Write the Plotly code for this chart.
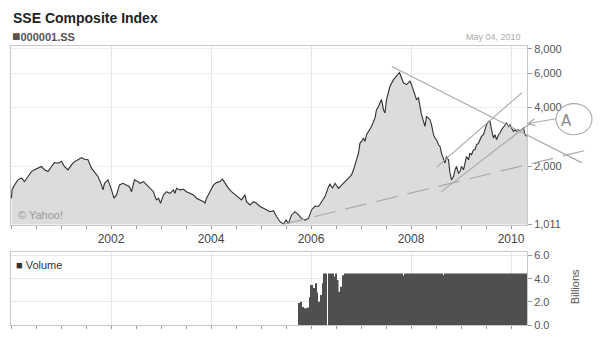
import math
import plotly.graph_objects as go

# ---- SSE Composite close (decimal year, index level) ----
years = [
    2000.01, 2000.02, 2000.07, 2000.14, 2000.21, 2000.27, 2000.34, 2000.41, 2000.47, 2000.54,
    2000.61, 2000.67, 2000.74, 2000.81, 2000.87, 2000.94, 2001.01, 2001.07, 2001.14, 2001.21,
    2001.27, 2001.34, 2001.41, 2001.47, 2001.54, 2001.61, 2001.67, 2001.74, 2001.81, 2001.84,
    2001.87, 2001.94, 2002.01, 2002.06, 2002.11, 2002.17, 2002.24, 2002.31, 2002.37, 2002.41,
    2002.47, 2002.54, 2002.58, 2002.65, 2002.71, 2002.78, 2002.85, 2002.88, 2002.91, 2002.95,
    2002.99, 2003.05, 2003.11, 2003.18, 2003.25, 2003.28, 2003.31, 2003.38, 2003.45, 2003.51,
    2003.58, 2003.65, 2003.71, 2003.78, 2003.85, 2003.88, 2003.91, 2003.98, 2004.05, 2004.11,
    2004.18, 2004.23, 2004.28, 2004.35, 2004.41, 2004.48, 2004.55, 2004.61, 2004.68, 2004.71,
    2004.78, 2004.85, 2004.91, 2004.98, 2005.05, 2005.11, 2005.18, 2005.25, 2005.31, 2005.38,
    2005.45, 2005.50, 2005.55, 2005.61, 2005.68, 2005.75, 2005.81, 2005.88, 2005.95, 2006.01,
    2006.08, 2006.15, 2006.21, 2006.28, 2006.35, 2006.38, 2006.43, 2006.48, 2006.55, 2006.61,
    2006.68, 2006.75, 2006.81, 2006.85, 2006.88, 2006.91, 2006.95, 2006.98, 2007.01, 2007.05,
    2007.08, 2007.11, 2007.15, 2007.21, 2007.28, 2007.31, 2007.35, 2007.38, 2007.41, 2007.45,
    2007.48, 2007.51, 2007.55, 2007.58, 2007.65, 2007.71, 2007.77, 2007.81, 2007.85, 2007.91,
    2007.98, 2008.01, 2008.05, 2008.08, 2008.11, 2008.15, 2008.18, 2008.21, 2008.25, 2008.28,
    2008.31, 2008.35, 2008.38, 2008.41, 2008.45, 2008.48, 2008.51, 2008.55, 2008.58, 2008.61,
    2008.65, 2008.68, 2008.71, 2008.75, 2008.78, 2008.81, 2008.85, 2008.88, 2008.91, 2008.95,
    2008.98, 2009.01, 2009.05, 2009.08, 2009.11, 2009.15, 2009.18, 2009.21, 2009.25, 2009.28,
    2009.31, 2009.35, 2009.38, 2009.41, 2009.45, 2009.48, 2009.51, 2009.55, 2009.58, 2009.61,
    2009.65, 2009.68, 2009.71, 2009.75, 2009.78, 2009.81, 2009.85, 2009.88, 2009.91, 2009.95,
    2009.98, 2010.01, 2010.05, 2010.08, 2010.11, 2010.15, 2010.18, 2010.21, 2010.25, 2010.28,
    2010.32,
]
close = [
    1378, 1519, 1611, 1709, 1750, 1675, 1778, 1885, 1924, 1963,
    2000, 1924, 1885, 2000, 2095, 2080, 2120, 2000, 1924, 2040,
    2120, 2164, 2223, 2180, 2164, 1963, 1885, 1778, 1611, 1519,
    1642, 1709, 1519, 1378, 1432, 1611, 1642, 1611, 1577, 1487,
    1709, 1675, 1642, 1675, 1611, 1548, 1487, 1404, 1350, 1378,
    1298, 1432, 1487, 1458, 1519, 1458, 1548, 1519, 1531, 1487,
    1458, 1432, 1378, 1350, 1323, 1298, 1378, 1487, 1611, 1655,
    1675, 1723, 1642, 1548, 1487, 1432, 1378, 1350, 1432, 1323,
    1273, 1323, 1298, 1250, 1225, 1200, 1176, 1190, 1110, 1045,
    1016, 1065, 1025, 1131, 1176, 1131, 1086, 1065, 1086, 1200,
    1256, 1250, 1323, 1404, 1577, 1627, 1548, 1642, 1548, 1611,
    1675, 1743, 1813, 1924, 2040, 2164, 2342, 2636, 2687, 2798,
    2687, 2909, 3026, 3205, 3542, 3902, 4054, 4236, 4398, 3902,
    3752, 4398, 4755, 5141, 5558, 5778, 6050, 5684, 5355, 5243,
    5458, 5243, 4848, 4570, 4398, 4486, 4061, 3682, 3404, 3205,
    3609, 3542, 3471, 3272, 2909, 2798, 2742, 2584, 2532, 2342,
    2208, 2082, 2252, 2164, 1850, 1709, 1776, 1924, 2000, 1850,
    1885, 2000, 1924, 2120, 2252, 2164, 2342, 2296, 2436, 2436,
    2584, 2636, 2742, 2850, 2909, 3085, 3272, 3404, 3404, 3085,
    2798, 2909, 2742, 2909, 2967, 3085, 3205, 3272, 3339, 3205,
    3272, 3148, 3026, 3085, 3026, 3085, 3026, 3085, 3148, 2909,
    2850,
]

# ---- Volume in billions (step series: value holds until next year mark) ----
vol_years = [
    2005.74, 2005.78, 2005.82, 2005.86, 2005.92, 2005.96, 2005.98, 2006.04, 2006.08, 2006.12,
    2006.14, 2006.18, 2006.22, 2006.24, 2006.32, 2006.34, 2006.46, 2006.48, 2006.52, 2006.55,
    2006.58, 2006.62, 2006.66, 2007.84, 2007.86, 2008.64, 2008.66, 2010.32,
]
vol_bn = [
    1.9, 2.0, 1.55, 1.45, 1.5, 2.4, 3.45, 3.2, 3.6, 2.8,
    2.0, 2.6, 3.6, 4.45, 0.0, 4.45, 4.16, 4.45, 3.88, 2.87,
    3.3, 4.3, 4.45, 4.25, 4.45, 4.3, 4.45, 4.45,
]

x_ticks = [2002, 2004, 2006, 2008, 2010]
x_labels = ["2002", "2004", "2006", "2008", "2010"]
price_ticks = [1011, 2000, 4000, 6000, 8000]
price_labels = ["1,011", "2,000", "4,000", "6,000", "8,000"]
vol_ticks = [0, 2, 4, 6]
vol_labels = ["0.0", "2.0", "4.0", "6.0"]

X0, X1 = 2000.0, 2010.32
PRICE_BOTTOM, PRICE_TOP = 1011, 8260

# Pencilled trend lines: (start year, start level, end year, end level)
line_down = (2007.62, 6490, 2011.42, 2088)
line_channel_hi = (2008.52, 1993, 2010.22, 4774)
line_channel_lo = (2008.60, 1484, 2010.40, 3350)
line_support = (2005.44, 1013, 2011.54, 2436)

# "(A)" marker: ellipse box (years, levels), label centre, arrow tip / tail
mark_box = (2010.90, 2908, 2011.62, 4194)
mark_text = (2011.26, 3420)
arrow_tip = (2010.32, 3311)
arrow_tail = (2010.94, 3520)

# plot-area size in pixels (figure minus margins) and price-panel height
PLOT_W = 600 - 11 - 73
PRICE_H = (341 - 46 - 16) * (1 - 0.3602)


def xp(yr):
    return (yr - X0) / (X1 - X0)


FONT = "Liberation Sans, Arial, sans-serif"
GRID = "#e6e6e6"
FRAME = "#c8c8c8"
PENCIL = "#a9a9a9"

fig = go.Figure()

fig.add_trace(go.Scatter(
    x=years, y=close, mode="lines",
    line=dict(color="#303030", width=1.1),
    fill="tozeroy", fillcolor="#dcdcdc",
    xaxis="x", yaxis="y", hoverinfo="skip",
))

fig.add_trace(go.Scatter(
    x=vol_years, y=vol_bn, mode="lines",
    line=dict(width=0, shape="hv", color="#4f4f4f"),
    fill="tozeroy", fillcolor="#4f4f4f",
    xaxis="x2", yaxis="y2", hoverinfo="skip",
))

xcommon = dict(
    range=[X0, X1], tickvals=x_ticks, ticktext=x_labels,
    showgrid=True, gridcolor=GRID, gridwidth=1,
    ticks="outside", ticklen=3, tickcolor="#999",
    showline=True, linecolor=FRAME, mirror=True, zeroline=False,
    minor=dict(tick0=2000, dtick=0.5, ticks="outside", ticklen=3,
               tickcolor="#999", showgrid=False),
)

fig.update_layout(
    width=600, height=341,
    margin=dict(l=11, r=73, t=46, b=16),
    paper_bgcolor="white", plot_bgcolor="white",
    showlegend=False,
    font=dict(family=FONT, color="#444"),
    xaxis=dict(**xcommon, domain=[0, 1], anchor="y",
               tickfont=dict(size=12, color="#444")),
    yaxis=dict(
        type="log", domain=[0.3602, 1], anchor="x", side="right",
        range=[math.log10(PRICE_BOTTOM), math.log10(PRICE_TOP)],
        tickvals=price_ticks, ticktext=price_labels,
        tickfont=dict(size=11, color="#555"),
        ticks="outside", ticklen=4, tickcolor="#999",
        showgrid=True, gridcolor="#efefef",
        showline=True, linecolor=FRAME, mirror=True, zeroline=False,
    ),
    xaxis2=dict(**xcommon, domain=[0, 1], anchor="y2", matches="x",
                showticklabels=False),
    yaxis2=dict(
        domain=[0, 0.2616], anchor="x2", side="right",
        range=[0, 6.3], tickvals=vol_ticks, ticktext=vol_labels,
        tickfont=dict(size=11, color="#555"),
        ticks="outside", ticklen=4, tickcolor="#999",
        showgrid=True, gridcolor=GRID,
        showline=True, linecolor=FRAME, mirror=True, zeroline=False,
    ),
)

# Pencilled trend lines (clipped vertically to the price panel only)
for seg, dash in [(line_down, "solid"), (line_channel_hi, "solid"),
                  (line_channel_lo, "solid"), (line_support, "22px,10px")]:
    fig.add_shape(type="line", xref="paper", yref="y",
                  x0=xp(seg[0]), y0=seg[1], x1=xp(seg[2]), y1=seg[3],
                  line=dict(color=PENCIL, width=1.2, dash=dash), layer="above")

fig.add_shape(type="circle", xref="paper", yref="y",
              x0=xp(mark_box[0]), y0=mark_box[1], x1=xp(mark_box[2]), y1=mark_box[3],
              line=dict(color=PENCIL, width=1.1))

fig.add_annotation(xref="paper", yref="y",
                   x=xp(mark_text[0]), y=math.log10(mark_text[1]),
                   text="A", showarrow=False,
                   font=dict(family="DejaVu Sans, sans-serif", size=15, color="#8a8a8a"))

# arrow pointing from the marker back to the latest close
log_span = math.log10(PRICE_TOP) - math.log10(PRICE_BOTTOM)
arrow_dx = (arrow_tail[0] - arrow_tip[0]) / (X1 - X0) * PLOT_W
arrow_dy = -(math.log10(arrow_tail[1]) - math.log10(arrow_tip[1])) / log_span * PRICE_H
fig.add_annotation(xref="paper", yref="y",
                   x=xp(arrow_tip[0]), y=math.log10(arrow_tip[1]),
                   ax=arrow_dx, ay=arrow_dy, axref="pixel", ayref="pixel",
                   text="", showarrow=True, arrowhead=5, arrowsize=1.3,
                   arrowwidth=1.0, arrowcolor=PENCIL)

# Header texts
fig.add_annotation(xref="paper", yref="paper", x=0.0, y=1.100,
                   xanchor="left", yanchor="middle", showarrow=False,
                   text="<b>SSE Composite Index</b>",
                   font=dict(size=14, color="#222"))
fig.add_annotation(xref="paper", yref="paper", x=-0.002, y=1.037,
                   xanchor="left", yanchor="middle", showarrow=False,
                   text="<span style='font-size:14px'>■</span><b>000001.SS</b>",
                   font=dict(size=11, color="#555"))
fig.add_annotation(xref="paper", yref="paper", x=0.992, y=1.033,
                   xanchor="right", yanchor="middle", showarrow=False,
                   text="May 04, 2010",
                   font=dict(size=9, color="#aaa"))

# Watermark and panel labels
fig.add_annotation(xref="x domain", yref="y domain", x=0.01, y=0.055,
                   xanchor="left", yanchor="middle", showarrow=False,
                   text="© Yahoo!", font=dict(size=11, color="#999"))
fig.add_annotation(xref="x2 domain", yref="y2 domain", x=0.006, y=0.82,
                   xanchor="left", yanchor="middle", showarrow=False,
                   text="■ Volume", font=dict(size=11, color="#333"))
fig.add_annotation(xref="paper", yref="y2 domain", x=1.093, y=0.53,
                   xanchor="center", yanchor="middle", showarrow=False,
                   textangle=-90, text="Billions",
                   font=dict(size=11, color="#555"))

fig.write_html("out.html")
